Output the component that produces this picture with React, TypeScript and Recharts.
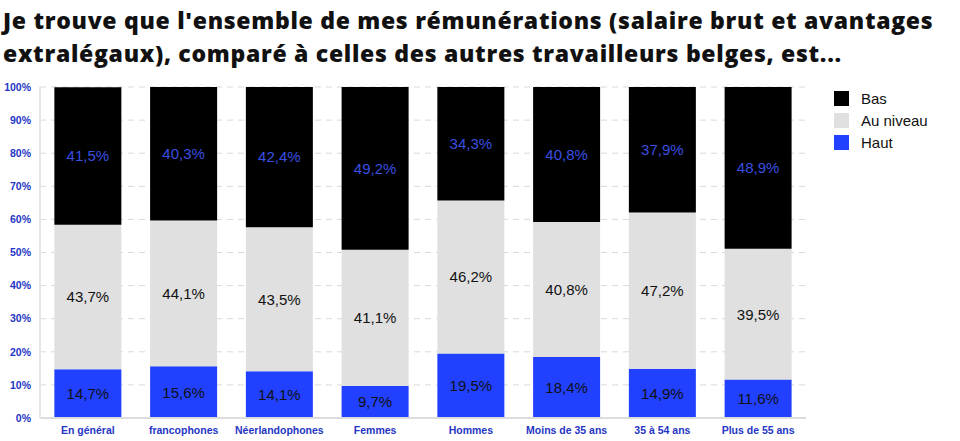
import React from 'react';
import { BarChart, Bar, XAxis, YAxis, CartesianGrid, Legend, LabelList } from 'recharts';

const categories = ['En général', 'francophones', 'Néerlandophones', 'Femmes', 'Hommes', 'Moins de 35 ans', '35 à 54 ans', 'Plus de 55 ans'];
const haut = [14.7, 15.6, 14.1, 9.7, 19.5, 18.4, 14.9, 11.6];
const auNiveau = [43.7, 44.1, 43.5, 41.1, 46.2, 40.8, 47.2, 39.5];
const bas = [41.5, 40.3, 42.4, 49.2, 34.3, 40.8, 37.9, 48.9];
const yTicks = [0, 10, 20, 30, 40, 50, 60, 70, 80, 90, 100];
const legendOrder = ['Bas', 'Au niveau', 'Haut'];

const data = categories.map((c, i) => ({ name: c, Haut: haut[i], 'Au niveau': auNiveau[i], Bas: bas[i] }));

const BLUE_BAR = '#2140ff';
const BLUE_TEXT = '#2536c4';
const BLUE_LABEL = '#3a4fe0';
const GRAY = '#e0e0e0';

const fmt = (v: any) => Number(v).toFixed(1).replace('.', ',') + '%';

const LegendContent = (props: any) => {
  const items = [...(props.payload || [])].sort((a: any, b: any) => legendOrder.indexOf(a.value) - legendOrder.indexOf(b.value));
  return (
    <div style={{ fontFamily: "'Liberation Sans', Arial, sans-serif", fontSize: 15, color: '#111' }}>
      {items.map((it: any) => (
        <div key={it.value} style={{ display: 'flex', alignItems: 'center', height: 22 }}>
          <span style={{ display: 'inline-block', width: 15, height: 15, background: it.color, marginRight: 12 }} />
          <span>{it.value}</span>
        </div>
      ))}
    </div>
  );
};

export default function App() {
  return (
    <div style={{ position: 'absolute', left: 0, top: 0, width: 960, height: 441, background: '#fff', overflow: 'hidden' }}>
      <div style={{ position: 'absolute', left: 3, top: 4, width: 957, fontFamily: "'Open Sans', sans-serif", fontWeight: 800, fontSize: 23, letterSpacing: 0.7, lineHeight: '33px', color: '#111', whiteSpace: 'nowrap' }}>
        Je trouve que l'ensemble de mes rémunérations (salaire brut et avantages<br />
        extralégaux), comparé à celles des autres travailleurs belges, est...
      </div>
      <BarChart width={960} height={441} data={data} margin={{ top: 87, right: 154, bottom: 0, left: 0 }} barCategoryGap="15%">
        <CartesianGrid vertical={false} stroke="#d9d9d9" strokeDasharray="6 5" />
        <XAxis dataKey="name" axisLine={{ stroke: '#dcdcdc', strokeWidth: 2 }} tickLine={false} tickSize={0} tickMargin={9} interval={0}
          tick={{ fill: BLUE_TEXT, fontSize: 10.5, fontWeight: 700, fontFamily: "'Liberation Sans', Arial, sans-serif" }} height={23} />
        <YAxis width={40} domain={[0, 100]} ticks={yTicks} tickFormatter={(v: number) => v + '%'} axisLine={{ stroke: '#e6e6e6', strokeWidth: 2 }} tickLine={false} tickSize={0} tickMargin={9}
          tick={{ fill: BLUE_TEXT, fontSize: 10.5, fontWeight: 600, fontFamily: "'Liberation Sans', Arial, sans-serif" }} />
        <Legend layout="horizontal" verticalAlign="middle" align="center" content={<LegendContent />}
          wrapperStyle={{ position: 'absolute', left: 834, top: 87, width: 120, height: 70 }} />
        <Bar dataKey="Haut" stackId="a" fill={BLUE_BAR} isAnimationActive={false}>
          <LabelList dataKey="Haut" position="center" formatter={fmt} fill="#111" fontSize={15} fontFamily="'Liberation Sans', Arial, sans-serif" />
        </Bar>
        <Bar dataKey="Au niveau" stackId="a" fill={GRAY} isAnimationActive={false}>
          <LabelList dataKey="Au niveau" position="center" formatter={fmt} fill="#111" fontSize={15} fontFamily="'Liberation Sans', Arial, sans-serif" />
        </Bar>
        <Bar dataKey="Bas" stackId="a" fill="#000" isAnimationActive={false}>
          <LabelList dataKey="Bas" position="center" formatter={fmt} fill={BLUE_LABEL} fontSize={15} fontFamily="'Liberation Sans', Arial, sans-serif" />
        </Bar>
      </BarChart>
    </div>
  );
}
